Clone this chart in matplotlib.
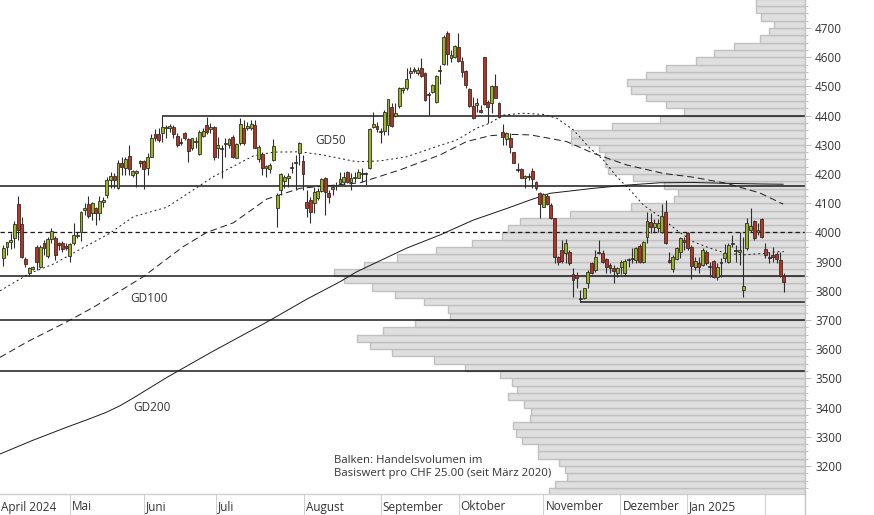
import matplotlib
matplotlib.use("Agg")
import matplotlib.pyplot as plt
import matplotlib.transforms as mtransforms
from matplotlib.lines import Line2D

# ---------------- data ----------------
opens = [3911, 3951, 3968, 3980, 4097, 4029, 3909, 3860, 3876, 3951,
         3880, 3962, 3919, 3976, 3980, 3962, 3962, 3954, 3919, 3962,
         3990, 4002, 4077, 4096, 4065, 4085, 4065, 4105, 4128, 4179,
         4193, 4151, 4239, 4219, 4262, 4197, 4206, 4244, 4245, 4219,
         4259, 4337, 4337, 4339, 4356, 4356, 4362, 4331, 4311, 4339,
         4319, 4288, 4311, 4268, 4331, 4368, 4354, 4362, 4290, 4288,
         4303, 4299, 4328, 4256, 4305, 4356, 4356, 4356, 4368, 4251,
         4268, 4219, 4216, 4248, 4082, 4145, 4176, 4185, 4222, 4237,
         4271, 4245, 4105, 4111, 4100, 4117, 4143, 4188, 4136, 4148,
         4160, 4168, 4174, 4207, 4174, 4188, 4188, 4202, 4199, 4219,
         4360, 4364, 4347, 4347, 4368, 4429, 4400, 4432, 4489, 4493,
         4545, 4561, 4545, 4563, 4545, 4474, 4482, 4446, 4555, 4576,
         4683, 4596, 4602, 4635, 4587, 4553, 4491, 4434, 4436, 4418,
         4600, 4448, 4442, 4501, 4444, 4344, 4319, 4322, 4274, 4217,
         4217, 4185, 4193, 4209, 4174, 4134, 4088, 4126, 4094, 4048,
         3917, 3940, 3928, 3934, 3859, 3854, 3774, 3774, 3825, 3894,
         3871, 3934, 3928, 3908, 3888, 3877, 3860, 3883, 3860, 3905,
         3912, 3905, 3955, 3898, 3985, 4035, 4020, 4016, 4000, 4069,
         3905, 3875, 3909, 3932, 3974, 3997, 3949, 3883, 3894, 3888,
         3934, 3886, 3902, 3848, 3894, 3911, 3900, 3962, 3940, 3934,
         3803, 3945, 4008, 4039, 4003, 4046, 3943, 3917, 3923, 3925,
         3905, 3851]
highs = [3957, 3968, 3997, 4040, 4125, 4052, 3917, 3882, 3885, 3957,
         3957, 3974, 3985, 4014, 3988, 3968, 3970, 3962, 3965, 4031,
         4002, 4073, 4102, 4125, 4105, 4088, 4125, 4122, 4191, 4208,
         4202, 4248, 4259, 4259, 4299, 4214, 4214, 4248, 4248, 4273,
         4337, 4353, 4356, 4400, 4368, 4370, 4368, 4339, 4322, 4345,
         4322, 4325, 4328, 4351, 4356, 4396, 4374, 4365, 4328, 4299,
         4322, 4325, 4334, 4305, 4391, 4385, 4379, 4385, 4385, 4299,
         4276, 4231, 4237, 4319, 4134, 4202, 4197, 4202, 4242, 4265,
         4308, 4265, 4145, 4122, 4157, 4151, 4185, 4191, 4145, 4162,
         4174, 4208, 4208, 4210, 4202, 4208, 4217, 4219, 4208, 4356,
         4411, 4379, 4356, 4419, 4457, 4442, 4442, 4499, 4499, 4562,
         4568, 4568, 4568, 4596, 4550, 4482, 4510, 4539, 4573, 4676,
         4690, 4625, 4642, 4682, 4602, 4556, 4493, 4465, 4461, 4436,
         4602, 4453, 4505, 4542, 4448, 4373, 4345, 4339, 4276, 4237,
         4219, 4196, 4202, 4219, 4177, 4140, 4134, 4131, 4100, 4048,
         3919, 3974, 3976, 3940, 3877, 3866, 3803, 3811, 3871, 3900,
         3940, 3974, 3940, 3911, 3894, 3888, 3883, 3905, 3908, 3914,
         3945, 3951, 3959, 3971, 4071, 4065, 4046, 4046, 4096, 4111,
         3932, 3923, 3951, 3985, 3985, 4000, 3957, 3917, 3917, 3945,
         3940, 3900, 3905, 3894, 3911, 3959, 3963, 3991, 3957, 4003,
         3985, 4048, 4082, 4043, 4031, 4048, 3963, 3934, 3951, 3934,
         3932, 3860]
lows = [3886, 3922, 3942, 3945, 3974, 3911, 3882, 3852, 3870, 3871,
        3877, 3922, 3911, 3962, 3905, 3940, 3934, 3940, 3900, 3957,
        3980, 3972, 4060, 4048, 4043, 4025, 4043, 4088, 4117, 4151,
        4151, 4149, 4197, 4197, 4197, 4191, 4157, 4225, 4149, 4197,
        4259, 4314, 4311, 4311, 4322, 4345, 4322, 4294, 4299, 4316,
        4242, 4282, 4288, 4265, 4328, 4336, 4339, 4248, 4256, 4185,
        4259, 4288, 4254, 4254, 4299, 4299, 4351, 4351, 4288, 4242,
        4197, 4191, 4202, 4245, 4020, 4128, 4151, 4157, 4202, 4145,
        4231, 4145, 4054, 4031, 4065, 4111, 4140, 4060, 4100, 4128,
        4145, 4165, 4162, 4168, 4145, 4174, 4185, 4174, 4162, 4217,
        4356, 4345, 4305, 4334, 4334, 4362, 4396, 4425, 4476, 4488,
        4528, 4545, 4539, 4533, 4450, 4402, 4476, 4442, 4510, 4573,
        4573, 4585, 4598, 4585, 4533, 4493, 4430, 4388, 4411, 4408,
        4436, 4374, 4410, 4459, 4393, 4299, 4299, 4271, 4237, 4208,
        4185, 4151, 4180, 4151, 4145, 4048, 4086, 4094, 4045, 3894,
        3888, 3894, 3894, 3888, 3780, 3808, 3762, 3771, 3808, 3858,
        3865, 3926, 3894, 3860, 3862, 3825, 3848, 3857, 3851, 3883,
        3894, 3894, 3894, 3894, 3963, 3997, 4003, 4000, 3997, 3959,
        3894, 3866, 3905, 3911, 3940, 3940, 3840, 3871, 3860, 3886,
        3888, 3848, 3843, 3837, 3848, 3900, 3894, 3951, 3900, 3888,
        3780, 3940, 4003, 3974, 3991, 3980, 3911, 3894, 3900, 3894,
        3848, 3797]
closes = [3945, 3966, 3973, 4029, 4008, 3917, 3892, 3877, 3880, 3900,
          3951, 3945, 3976, 4005, 3923, 3959, 3942, 3945, 3960, 3991,
          3991, 4069, 4083, 4056, 4102, 4068, 4109, 4111, 4179, 4193,
          4179, 4239, 4225, 4250, 4216, 4210, 4208, 4236, 4216, 4259,
          4325, 4325, 4316, 4362, 4362, 4364, 4336, 4299, 4305, 4325,
          4280, 4322, 4309, 4345, 4347, 4345, 4360, 4259, 4299, 4286,
          4305, 4319, 4259, 4302, 4371, 4305, 4364, 4370, 4290, 4294,
          4219, 4227, 4231, 4295, 4128, 4199, 4191, 4194, 4221, 4240,
          4305, 4199, 4082, 4071, 4137, 4142, 4182, 4137, 4121, 4156,
          4164, 4183, 4190, 4174, 4186, 4190, 4207, 4199, 4202, 4354,
          4371, 4355, 4343, 4411, 4457, 4365, 4409, 4496, 4493, 4525,
          4553, 4553, 4556, 4537, 4453, 4472, 4505, 4536, 4553, 4669,
          4610, 4608, 4638, 4588, 4550, 4506, 4434, 4391, 4443, 4414,
          4440, 4431, 4501, 4461, 4396, 4326, 4339, 4291, 4239, 4214,
          4187, 4193, 4190, 4182, 4151, 4097, 4130, 4097, 4048, 3917,
          3900, 3903, 3963, 3894, 3837, 3843, 3771, 3808, 3865, 3862,
          3915, 3931, 3900, 3883, 3879, 3869, 3877, 3900, 3903, 3909,
          3909, 3945, 3900, 3968, 4039, 4020, 4031, 4031, 4057, 3963,
          3900, 3915, 3945, 3980, 3966, 3945, 3886, 3902, 3883, 3940,
          3894, 3883, 3848, 3883, 3900, 3928, 3957, 3963, 3937, 3940,
          3818, 4031, 4022, 3982, 4007, 3985, 3923, 3911, 3917, 3909,
          3852, 3829]

# moving averages (trading-day index, level)
gd50_idx = [-0.9, 7.2, 14.0, 18.0, 28.8, 35.2, 44.2, 56.8, 67.6, 73.0, 80.2,
            86.5, 95.5, 101.8, 109.0, 117.1, 122.5, 127.9, 131.5, 135.1,
            140.5, 146.0, 149.6, 154.1, 158.6, 162.2, 165.8, 169.4, 173.0,
            177.5, 182.0, 186.5, 191.0, 195.5, 200.1, 205.5, 209.1, 211.0]
gd50_val = [3800, 3860, 3894, 3923, 3997, 4054, 4086, 4191, 4262, 4275, 4276,
            4265, 4242, 4245, 4259, 4294, 4316, 4357, 4374, 4402,
            4408, 4404, 4391, 4351, 4288, 4248, 4191, 4145, 4094,
            4054, 4008, 3968, 3946, 3928, 3923, 3928, 3934, 3934]
gd100_idx = [-0.9, 6.6, 17.2, 24.7, 37.8, 48.6, 55.0, 62.2, 71.2, 80.2, 96.4,
             107.2, 118.0, 125.2, 131.5, 136.1, 142.4, 146.0, 152.3, 159.5,
             168.5, 178.4, 186.5, 195.5, 204.5, 210.8]
gd100_val = [3572, 3626, 3694, 3746, 3848, 3951, 4000, 4033, 4114, 4151, 4170,
             4214, 4265, 4311, 4331, 4336, 4334, 4326, 4311, 4271,
             4231, 4202, 4189, 4168, 4135, 4097]
gd200_idx = [-0.9, 8.0, 17.2, 23.0, 27.7, 31.5, 35.3, 44.3, 56.4, 71.4, 82.0,
             91.0, 95.5, 109.0, 118.0, 127.0, 136.1, 142.4, 147.8, 159.5,
             168.5, 177.5, 186.5, 195.5, 204.5, 210.8]
gd200_val = [3241, 3288, 3333, 3360, 3383, 3406, 3434, 3504, 3591, 3694, 3771,
             3831, 3865, 3946, 3991, 4042, 4082, 4111, 4134, 4151,
             4162, 4170, 4171, 4168, 4166, 4165]

# volume profile (lower edge of each CHF 25 band, relative volume)
profile_levels = [3100, 3125, 3150, 3175, 3200, 3225, 3250, 3275, 3300, 3325,
                  3350, 3375, 3400, 3425, 3450, 3475, 3500, 3525, 3550, 3575,
                  3600, 3625, 3650, 3675, 3700, 3725, 3750, 3775, 3800, 3825,
                  3850, 3875, 3900, 3925, 3950, 3975, 4000, 4025, 4050, 4075,
                  4100, 4125, 4150, 4175, 4200, 4225, 4250, 4275, 4300, 4325,
                  4350, 4375, 4400, 4425, 4450, 4475, 4500, 4525, 4550, 4575,
                  4600, 4625, 4650, 4675, 4700, 4725, 4750, 4775]
profile_volume = [256, 250, 238, 240, 246, 267, 267, 283, 289, 292,
                  275, 274, 281, 297, 288, 293, 305, 340, 371, 413,
                  435, 448, 422, 390, 355, 357, 381, 410, 433, 461,
                  471, 441, 408, 369, 333, 303, 297, 285, 235, 174,
                  131, 127, 141, 172, 197, 200, 200, 206, 234, 234,
                  193, 145, 121, 139, 159, 174, 178, 159, 139, 109,
                  91, 71, 45, 36, 31, 44, 49, 49]

# horizontal reference levels
full_lines = [4160, 3850, 3700, 3525]
resistance_level, resistance_start = 4400, 43
support_level, support_start = 3760, 156
dashed_level = 4000

month_labels = ["April 2024", "Mai", "Juni", "Juli", "August", "September",
                "Oktober", "November", "Dezember", "Jan 2025", ""]
month_pos = [-0.9, 17.9, 38.0, 57.6, 81.2, 102.0, 123.1, 146.0, 166.8, 184.9, 205.8]

yticks = [3200, 3300, 3400, 3500, 3600, 3700, 3800, 3900, 4000, 4100, 4200,
          4300, 4400, 4500, 4600, 4700]

# ---------------- figure ----------------
FONT = "Open Sans"
TXT = "#333333"
W, H = 874, 515
fig = plt.figure(figsize=(W / 100, H / 100), dpi=100)
ax_left, ax_bottom, ax_w, ax_h = 0, 21 / H, 805 / W, 494 / H
ax = fig.add_axes([ax_left, ax_bottom, ax_w, ax_h])
axp = ax.twiny()
ax.set_zorder(axp.get_zorder() + 1)
ax.patch.set_visible(False)

XMIN, XMAX = -0.89, 216.7
ax.set_xlim(XMIN, XMAX)
ax.set_ylim(3104, 4796)

# volume profile bars on twin axis, growing from the right edge
axp.barh([lv + 12.5 for lv in profile_levels], profile_volume, height=25,
         left=0, color="#dfdfdf", edgecolor="#c0c0c0", linewidth=1.0)
axp.set_xlim(805, 0)
axp.set_xticks([])
for s in axp.spines.values():
    s.set_visible(False)

# horizontal lines
for lv in full_lines:
    ax.axhline(lv, color="#1a1a1a", lw=1.1, zorder=2)
ax.hlines(resistance_level, resistance_start, XMAX, color="#1a1a1a", lw=1.1, zorder=2)
ax.hlines(support_level, support_start, XMAX, color="#1a1a1a", lw=1.1, zorder=2)
ax.axhline(dashed_level, color="#1a1a1a", lw=0.9, ls=(0, (3.5, 2.5)), zorder=2)

# moving averages
ax.plot(gd50_idx, gd50_val, color="#1a1a1a", lw=0.7, ls=(0, (2, 3)), zorder=3)
ax.plot(gd100_idx, gd100_val, color="#1a1a1a", lw=0.7, ls=(0, (7, 4)), zorder=3)
ax.plot(gd200_idx, gd200_val, color="#1a1a1a", lw=0.7, zorder=3)

# candles
idx = list(range(len(opens)))
ax.vlines(idx, lows, highs, color="#2e2e2e", lw=0.8, zorder=4)
bottoms, heights, colors = [], [], []
for o, c in zip(opens, closes):
    lo, hi = min(o, c), max(o, c)
    if hi - lo < 4:
        mid = (hi + lo) / 2
        lo, hi = mid - 2, mid + 2
    bottoms.append(lo)
    heights.append(hi - lo)
    colors.append("#9cb51c" if c >= o else "#c0301f")
ax.bar(idx, heights, bottom=bottoms, width=0.78, color=colors,
       edgecolor="#2e2e2e", linewidth=0.6, zorder=5)

# texts
ax.text(84.2, 4316, "GD50", fontsize=8.5, family=FONT, color=TXT, va="center", ha="left")
ax.text(34.2, 3775, "GD100", fontsize=8.5, family=FONT, color=TXT, va="center", ha="left")
ax.text(35.1, 3399, "GD200", fontsize=8.5, family=FONT, color=TXT, va="center", ha="left")
ax.text(89.4, 3196, "Balken: Handelsvolumen im\nBasiswert pro CHF 25.00 (seit März 2020)",
        fontsize=8.2, family=FONT, color=TXT, va="center", ha="left", linespacing=1.3)

# y axis on the right
ax.yaxis.tick_right()
ax.set_yticks(yticks)
ax.set_yticklabels([str(v) for v in yticks], family=FONT, fontsize=8.5, color=TXT)
ax.set_yticks(list(range(3125, 4800, 25)), minor=True)
ax.tick_params(axis="y", which="major", length=4.3, width=0.7, color="#bdbdbd", pad=3)
ax.tick_params(axis="y", which="minor", length=2.2, width=0.7, color="#bdbdbd")

# x axis: month separators with left-aligned labels
ax.set_xticks(month_pos[1:])
ax.set_xticklabels([])
ax.tick_params(axis="x", which="major", length=15.1, width=0.8, color="#d0d0d0", direction="out")
base = mtransforms.blended_transform_factory(ax.transData, ax.transAxes)
for pos, lab in zip(month_pos, month_labels):
    tr = mtransforms.offset_copy(base, fig=fig, x=(2 if pos > XMIN else 1), y=-13, units="dots")
    ax.text(max(pos, XMIN), 0, lab, transform=tr, fontsize=8.5, family=FONT,
            color=TXT, ha="left", va="center")

for side in ("left", "top"):
    ax.spines[side].set_visible(False)
ax.spines["bottom"].set_color("#cfcfcf")
ax.spines["right"].set_color("#c4c4c4")
ax.spines["bottom"].set_linewidth(1.0)
ax.spines["right"].set_linewidth(1.0)

# right border continues through the date band
fig.add_artist(Line2D([ax_w, ax_w], [0, ax_bottom], transform=fig.transFigure,
                      color="#c4c4c4", lw=1.0))

fig.savefig("out.png", dpi=100)
